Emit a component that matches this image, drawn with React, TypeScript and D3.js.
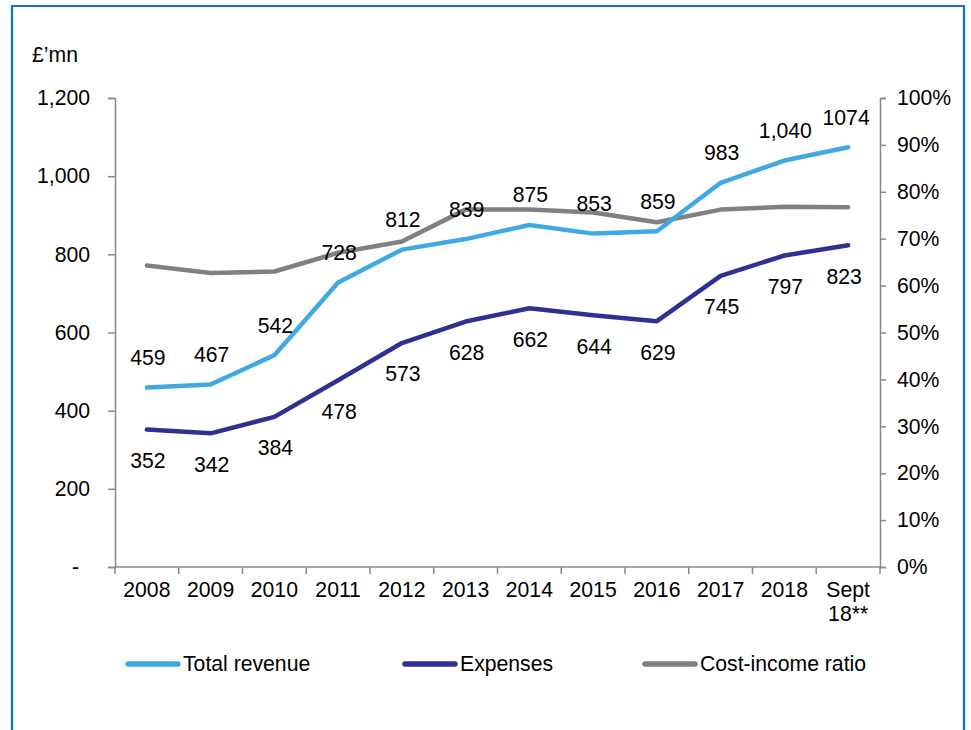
import React, { useEffect, useRef } from 'react';
import * as d3 from 'd3';

const categories = ['2008', '2009', '2010', '2011', '2012', '2013', '2014', '2015', '2016', '2017', '2018', 'Sept\n18**'];
const revenue = [459, 467, 542, 728, 812, 839, 875, 853, 859, 983, 1040, 1074];
const revenueLabels = ['459', '467', '542', '728', '812', '839', '875', '853', '859', '983', '1,040', '1074'];
const expenses = [352, 342, 384, 478, 573, 628, 662, 644, 629, 745, 797, 823];
const costIncome = [64.3, 62.7, 63.0, 67.0, 69.4, 76.2, 76.2, 75.6, 73.5, 76.2, 76.8, 76.7];
const leftTicks = [0, 200, 400, 600, 800, 1000, 1200];
const rightTicks = [0, 10, 20, 30, 40, 50, 60, 70, 80, 90, 100];

const legendItems = [
	{ name: 'Total revenue', color: '#41a9e1', x: 125 },
	{ name: 'Expenses', color: '#2e3192', x: 402 },
	{ name: 'Cost-income ratio', color: '#808080', x: 642 },
];

const App = () => {
	const ref = useRef<SVGSVGElement>(null);
	useEffect(() => {
		const svg = d3.select(ref.current);
		svg.selectAll('*').remove();
		const left = 115, right = 880, top = 98, bottom = 567;
		const font = 'Liberation Sans, Arial, sans-serif';
		const fs = 21.2;
		const axisColor = '#888888';

		// frame
		svg.append('path')
			.attr('d', 'M12,731 L12,6 L964,6 L964,731')
			.attr('fill', 'none')
			.attr('stroke', '#0a74c8')
			.attr('stroke-width', 2.2);

		const x = d3.scaleBand().domain(categories).range([left, right]);
		const yL = d3.scaleLinear().domain([0, 1200]).range([bottom, top]);
		const yR = d3.scaleLinear().domain([0, 100]).range([bottom, top]);
		const cx = (i: number) => (x(categories[i]) as number) + x.bandwidth() / 2;

		// axes
		const leftAxis = d3.axisLeft(yL).tickValues(leftTicks).tickSize(7).tickPadding(18)
			.tickFormat((d) => (d === 0 ? '-' : d3.format(',')(d as number)));
		const gl = svg.append('g').attr('transform', `translate(${left},0)`).call(leftAxis);
		const rightAxis = d3.axisRight(yR).tickValues(rightTicks).tickSize(6).tickPadding(11)
			.tickFormat((d) => d + '%');
		const gr = svg.append('g').attr('transform', `translate(${right},0)`).call(rightAxis);
		const bottomAxis = d3.axisBottom(x).tickSize(0).tickPadding(14).tickFormat(() => '');
		const gb = svg.append('g').attr('transform', `translate(0,${bottom})`).call(bottomAxis);
		[gl, gr, gb].forEach((g) => {
			g.select('.domain').attr('stroke', axisColor).attr('stroke-width', 1.5);
			g.selectAll('line').attr('stroke', axisColor).attr('stroke-width', 1.5);
			g.selectAll('text').attr('font-family', font).attr('font-size', fs).attr('fill', '#000');
		});
		gl.selectAll('text').filter((d) => d === 0).attr('dx', -11);
		gb.select('.domain').attr('d', `M${left},0H${right}`);

		// x ticks at band edges
		const edges = categories.map((c) => x(c) as number).concat([right]);
		svg.append('g').selectAll('line').data(edges).enter().append('line')
			.attr('x1', (d) => d).attr('x2', (d) => d)
			.attr('y1', bottom).attr('y2', bottom + 7)
			.attr('stroke', axisColor).attr('stroke-width', 1.5);

		// x labels
		categories.forEach((c, i) => {
			const t = svg.append('text')
				.attr('x', cx(i))
				.attr('y', 597)
				.attr('text-anchor', 'middle')
				.attr('font-family', font)
				.attr('font-size', fs);
			c.split('\n').forEach((line, j) => {
				t.append('tspan').attr('x', cx(i)).attr('dy', j === 0 ? 0 : 24).text(line);
			});
		});

		// lines
		const lineL = d3.line<number>().x((_, i) => cx(i)).y((d) => yL(d));
		const lineR = d3.line<number>().x((_, i) => cx(i)).y((d) => yR(d));
		svg.append('path').datum(costIncome).attr('d', lineR).attr('fill', 'none')
			.attr('stroke', '#808080').attr('stroke-width', 4.5).attr('stroke-linejoin', 'round').attr('stroke-linecap', 'round');
		svg.append('path').datum(revenue).attr('d', lineL).attr('fill', 'none')
			.attr('stroke', '#41a9e1').attr('stroke-width', 4.5).attr('stroke-linejoin', 'round').attr('stroke-linecap', 'round');
		svg.append('path').datum(expenses).attr('d', lineL).attr('fill', 'none')
			.attr('stroke', '#2e3192').attr('stroke-width', 4.5).attr('stroke-linejoin', 'round').attr('stroke-linecap', 'round');

		// data labels
		svg.append('g').selectAll('text').data(revenue).enter().append('text')
			.attr('x', (_, i) => cx(i) + (i === 11 ? -2 : 1))
			.attr('y', (d) => yL(d) - 30)
			.attr('dy', '0.35em')
			.attr('text-anchor', 'middle')
			.attr('font-family', font).attr('font-size', fs)
			.text((_, i) => revenueLabels[i]);
		svg.append('g').selectAll('text').data(expenses).enter().append('text')
			.attr('x', (_, i) => cx(i) + (i === 11 ? -4 : 1))
			.attr('y', (d) => yL(d) + 31)
			.attr('dy', '0.35em')
			.attr('text-anchor', 'middle')
			.attr('font-family', font).attr('font-size', fs)
			.text((d) => d3.format(',')(d));

		// unit label
		svg.append('text').attr('x', 32).attr('y', 55).attr('dy', '0.35em')
			.attr('font-family', font).attr('font-size', fs).text('£’mn');

		// legend
		const lg = svg.append('g').selectAll('g').data(legendItems).enter().append('g');
		lg.append('line')
			.attr('x1', (d) => d.x + 3).attr('x2', (d) => d.x + 53)
			.attr('y1', 664).attr('y2', 664)
			.attr('stroke', (d) => d.color).attr('stroke-width', 5.5).attr('stroke-linecap', 'round');
		lg.append('text')
			.attr('x', (d) => d.x + 58).attr('y', 664).attr('dy', '0.35em')
			.attr('font-family', font).attr('font-size', fs)
			.text((d) => d.name);
	}, []);
	return <svg ref={ref} width={971} height={730} style={{ position: 'absolute', left: 0, top: 0 }} />;
};

export default App;
